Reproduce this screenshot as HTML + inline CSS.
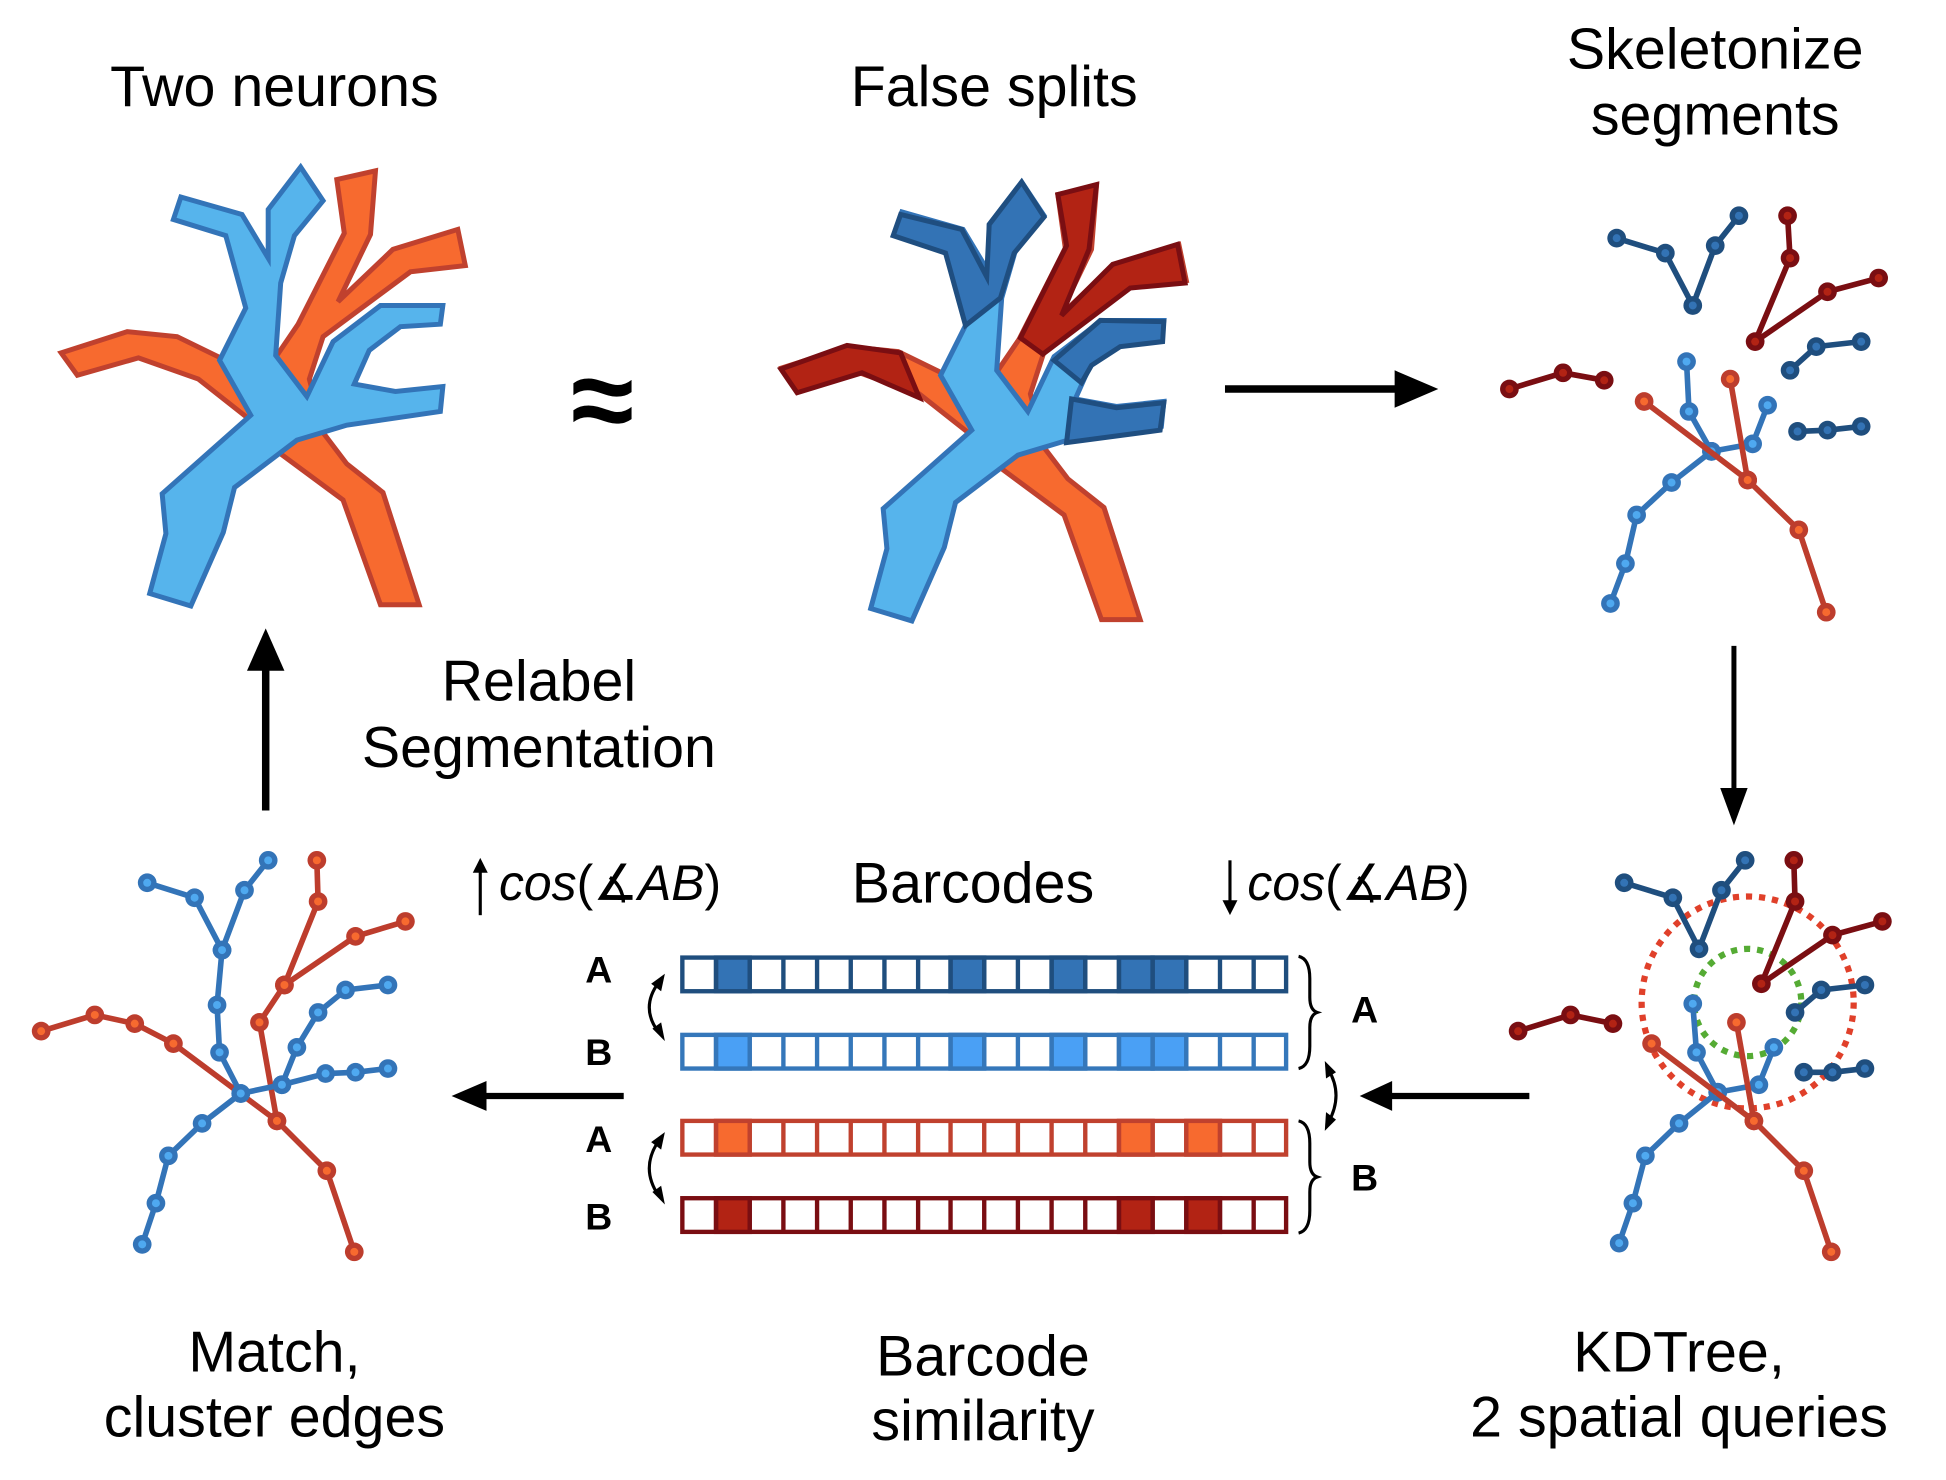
<!DOCTYPE html>
<html><head><meta charset="utf-8"><style>
html,body{margin:0;padding:0;background:#fff}
svg{display:block}
text{font-family:"Liberation Sans",Arial,sans-serif;fill:#000}
</style></head><body>
<svg width="1946" height="1480" viewBox="0 0 1560 1187" preserveAspectRatio="none" xmlns="http://www.w3.org/2000/svg">
<defs>
<marker id="mlb" markerUnits="userSpaceOnUse" markerWidth="20" markerHeight="20" refX="10" refY="10" viewBox="0 0 20 20"><circle cx="10" cy="10" r="7.5" fill="#3374b8"/><circle cx="10" cy="10" r="3.2" fill="#4fa9f0"/></marker>
<marker id="mor" markerUnits="userSpaceOnUse" markerWidth="20" markerHeight="20" refX="10" refY="10" viewBox="0 0 20 20"><circle cx="10" cy="10" r="7.5" fill="#bd3d2d"/><circle cx="10" cy="10" r="3.2" fill="#f76a2f"/></marker>
<marker id="mdb" markerUnits="userSpaceOnUse" markerWidth="20" markerHeight="20" refX="10" refY="10" viewBox="0 0 20 20"><circle cx="10" cy="10" r="7.5" fill="#1f4e7e"/><circle cx="10" cy="10" r="3.2" fill="#3373b5"/></marker>
<marker id="mdr" markerUnits="userSpaceOnUse" markerWidth="20" markerHeight="20" refX="10" refY="10" viewBox="0 0 20 20"><circle cx="10" cy="10" r="7.5" fill="#7a0e12"/><circle cx="10" cy="10" r="3.2" fill="#b22314"/></marker>
<g id="orN"><polygon points="49,283 102,266 142,270 185,291 222,285 239,260 276,187 270,144 301,137 297,188 271,242 315,200 367,184 373,213 329,218 259,270 248,304 259,347 278,372 307,395 336,485 305,485 275,401 225,364 197,334 159,304 111,287 62,301" fill="#f76a2f" stroke="#c0412e" stroke-width="4" stroke-linejoin="miter"/></g>
<g id="blN"><polygon points="120,476 133,428 130,396 201,333 176,289 197,247 181,189 139,176 145,158 194,172 215,207 215,168 241,134 259,161 236,189 225,227 221,285 246,318 267,274 305,245 355,245 353,260 321,262 296,281 284,308 317,314 355,310 353,330 278,341 238,353 188,391 179,427 153,486" fill="#56b4ec" stroke="#3374b8" stroke-width="4"/></g>
</defs>

<!-- Titles -->
<text x="220" y="85" font-size="46" text-anchor="middle">Two neurons</text>
<text x="797" y="85" font-size="46" text-anchor="middle">False splits</text>
<text x="1375" y="55" font-size="46" text-anchor="middle">Skeletonize</text>
<text x="1375" y="108" font-size="46" text-anchor="middle">segments</text>

<!-- Neuron 1 -->
<use href="#orN"/><use href="#blN"/>
<text x="483" y="352" font-size="92" font-weight="bold" text-anchor="middle">≈</text>

<!-- Neuron 2 -->
<g transform="translate(578,12)"><use href="#orN"/><use href="#blN"/></g>
<g stroke-width="4" stroke-linejoin="miter">
<polygon points="716,189 722,172 771,184 791,222 793,180 819,146 837,174 813,203 802,239 774,261 758,203" fill="#3373b5" stroke="#1f4e80"/>
<polygon points="848,156 879,148 873,200 851,253 892,212 944,196 950,227 906,231 836,284 818,271 855,197" fill="#b22314" stroke="#7a0e12"/>
<polygon points="626,296 679,277 722,283 737,319 691,299 639,315" fill="#b22314" stroke="#7a0e12"/>
<polygon points="845,289 882,257 933,258 932,274 898,278 875,293 867,307" fill="#3373b5" stroke="#1f4e80"/>
<polygon points="859,320 895,327 933,323 930,345 855,355" fill="#3373b5" stroke="#1f4e80"/>
</g>

<!-- Top arrow right -->
<line x1="982" y1="312" x2="1122" y2="312" stroke="#000" stroke-width="6"/>
<polygon points="1118,297 1153,312 1118,327" fill="#000"/>

<!-- Skeleton top right -->
<g fill="none" stroke-width="4.5" stroke-linejoin="round">
<polyline points="1296,191 1335,203 1357,245 1375,197 1394,173" stroke="#1f4e7e" marker-start="url(#mdb)" marker-mid="url(#mdb)" marker-end="url(#mdb)"/>
<polyline points="1433,173 1435,207 1407,274 1465,234 1506,223" stroke="#7a0e12" marker-start="url(#mdr)" marker-mid="url(#mdr)" marker-end="url(#mdr)"/>
<polyline points="1435,297 1456,278 1492,274" stroke="#1f4e7e" marker-start="url(#mdb)" marker-mid="url(#mdb)" marker-end="url(#mdb)"/>
<polyline points="1441,346 1465,345 1492,342" stroke="#1f4e7e" marker-start="url(#mdb)" marker-mid="url(#mdb)" marker-end="url(#mdb)"/>
<polyline points="1210,312 1253,299 1286,305" stroke="#7a0e12" marker-start="url(#mdr)" marker-mid="url(#mdr)" marker-end="url(#mdr)"/>
<polyline points="1352,290 1354,330 1372,362 1405,356 1417,325" stroke="#3374b8" marker-start="url(#mlb)" marker-mid="url(#mlb)" marker-end="url(#mlb)"/>
<polyline points="1372,362 1340,387 1312,413 1303,452 1291,484" stroke="#3374b8" marker-start="url(#mlb)" marker-mid="url(#mlb)" marker-end="url(#mlb)"/>
<polyline points="1318,322 1401,385 1442,425 1464,491" stroke="#bd3d2d" marker-start="url(#mor)" marker-mid="url(#mor)" marker-end="url(#mor)"/>
<polyline points="1387,304 1401,385" stroke="#bd3d2d" marker-start="url(#mor)" marker-end="url(#mor)"/>
</g>

<!-- Down arrow -->
<line x1="1390" y1="518" x2="1390" y2="636" stroke="#000" stroke-width="4"/>
<polygon points="1379,632 1390,662 1401,632" fill="#000"/>

<!-- Up arrow -->
<line x1="213" y1="650" x2="213" y2="535" stroke="#000" stroke-width="6"/>
<polygon points="198,538 213,504 228,538" fill="#000"/>
<text x="432" y="562" font-size="46" text-anchor="middle">Relabel</text>
<text x="432" y="615" font-size="46" text-anchor="middle">Segmentation</text>

<!-- Skeleton bottom right (KDTree) -->
<circle cx="1401" cy="804" r="85" fill="none" stroke="#e0402a" stroke-width="5" stroke-dasharray="5,5.5"/>
<circle cx="1401" cy="804" r="43" fill="none" stroke="#55ab34" stroke-width="5" stroke-dasharray="5,5.5"/>
<g fill="none" stroke-width="4.5" stroke-linejoin="round">
<polyline points="1302,708 1341,720 1362,761 1380,714 1399,690" stroke="#1f4e7e" marker-start="url(#mdb)" marker-mid="url(#mdb)" marker-end="url(#mdb)"/>
<polyline points="1438,690 1439,723 1412,789 1469,750 1509,739" stroke="#7a0e12" marker-start="url(#mdr)" marker-mid="url(#mdr)" marker-end="url(#mdr)"/>
<polyline points="1439,812 1460,794 1495,790" stroke="#1f4e7e" marker-start="url(#mdb)" marker-mid="url(#mdb)" marker-end="url(#mdb)"/>
<polyline points="1446,860 1469,860 1495,857" stroke="#1f4e7e" marker-start="url(#mdb)" marker-mid="url(#mdb)" marker-end="url(#mdb)"/>
<polyline points="1217,827 1259,814 1293,821" stroke="#7a0e12" marker-start="url(#mdr)" marker-mid="url(#mdr)" marker-end="url(#mdr)"/>
<polyline points="1357,805 1360,844 1377,876 1410,870 1422,840" stroke="#3374b8" marker-start="url(#mlb)" marker-mid="url(#mlb)" marker-end="url(#mlb)"/>
<polyline points="1377,876 1346,901 1319,927 1309,965 1298,997" stroke="#3374b8" marker-start="url(#mlb)" marker-mid="url(#mlb)" marker-end="url(#mlb)"/>
<polyline points="1324,837 1406,899 1446,939 1468,1004" stroke="#bd3d2d" marker-start="url(#mor)" marker-mid="url(#mor)" marker-end="url(#mor)"/>
<polyline points="1392,820 1406,899" stroke="#bd3d2d" marker-start="url(#mor)" marker-end="url(#mor)"/>
</g>

<!-- Skeleton bottom left (Match) -->
<g fill="none" stroke-width="4.5" stroke-linejoin="round">
<polyline points="254,690 255,723 228,790 208,820 222,899" stroke="#bd3d2d" marker-start="url(#mor)" marker-mid="url(#mor)" marker-end="url(#mor)"/>
<polyline points="228,790 285,751 325,739" stroke="#bd3d2d" marker-start="url(#mor)" marker-mid="url(#mor)" marker-end="url(#mor)"/>
<polyline points="33,827 76,814 108,821 139,837 222,899 262,939 284,1004" stroke="#bd3d2d" marker-start="url(#mor)" marker-mid="url(#mor)" marker-end="url(#mor)"/>
<polyline points="118,708 156,720 178,762 196,714 215,690" stroke="#3374b8" marker-start="url(#mlb)" marker-mid="url(#mlb)" marker-end="url(#mlb)"/>
<polyline points="178,762 174,806 176,844 193,877 226,870 238,840 255,812 277,794 311,790" stroke="#3374b8" marker-start="url(#mlb)" marker-mid="url(#mlb)" marker-end="url(#mlb)"/>
<polyline points="226,870 261,861 285,860 311,857" stroke="#3374b8" marker-start="url(#mlb)" marker-mid="url(#mlb)" marker-end="url(#mlb)"/>
<polyline points="193,877 162,901 135,927 125,965 114,998" stroke="#3374b8" marker-start="url(#mlb)" marker-mid="url(#mlb)" marker-end="url(#mlb)"/>
</g>

<!-- Left arrows -->
<line x1="1226" y1="879" x2="1112" y2="879" stroke="#000" stroke-width="5"/>
<polygon points="1116,867 1090,879 1116,891" fill="#000"/>
<line x1="500" y1="879" x2="386" y2="879" stroke="#000" stroke-width="5"/>
<polygon points="390,867 362,879 390,891" fill="#000"/>

<!-- Barcode header -->
<line x1="385" y1="696" x2="385" y2="734" stroke="#000" stroke-width="2.5"/>
<polygon points="379,700 385,688 391,700" fill="#000"/>
<text x="400" y="722" font-size="40"><tspan font-style="italic">cos</tspan>(∡<tspan font-style="italic">AB</tspan>)</text>
<text x="780" y="724" font-size="46" text-anchor="middle">Barcodes</text>
<line x1="986" y1="690" x2="986" y2="726" stroke="#000" stroke-width="2.5"/>
<polygon points="980,722 986,734 992,722" fill="#000"/>
<text x="1000" y="722" font-size="40"><tspan font-style="italic">cos</tspan>(∡<tspan font-style="italic">AB</tspan>)</text>

<!-- Barcodes -->
<g stroke-width="3.5">
<g stroke="#1f4e7e" fill="#fff">
<rect x="547" y="768" width="484" height="27"/>
<rect x="574" y="768" width="27" height="27" fill="#3373b5"/>
<rect x="762" y="768" width="27" height="27" fill="#3373b5"/>
<rect x="843" y="768" width="27" height="27" fill="#3373b5"/>
<rect x="897" y="768" width="27" height="27" fill="#3373b5"/>
<rect x="924" y="768" width="27" height="27" fill="#3373b5"/>
<path d="M574,768v27M601,768v27M628,768v27M655,768v27M682,768v27M709,768v27M736,768v27M762,768v27M789,768v27M816,768v27M843,768v27M870,768v27M897,768v27M924,768v27M951,768v27M978,768v27M1005,768v27"/>
</g>
<g stroke="#3577ba" fill="#fff">
<rect x="547" y="830" width="484" height="27"/>
<rect x="574" y="830" width="27" height="27" fill="#4aa0f5"/>
<rect x="762" y="830" width="27" height="27" fill="#4aa0f5"/>
<rect x="843" y="830" width="27" height="27" fill="#4aa0f5"/>
<rect x="897" y="830" width="27" height="27" fill="#4aa0f5"/>
<rect x="924" y="830" width="27" height="27" fill="#4aa0f5"/>
<path d="M574,830v27M601,830v27M628,830v27M655,830v27M682,830v27M709,830v27M736,830v27M762,830v27M789,830v27M816,830v27M843,830v27M870,830v27M897,830v27M924,830v27M951,830v27M978,830v27M1005,830v27"/>
</g>
<g stroke="#c0412e" fill="#fff">
<rect x="547" y="899" width="484" height="27"/>
<rect x="574" y="899" width="27" height="27" fill="#f76a2f"/>
<rect x="897" y="899" width="27" height="27" fill="#f76a2f"/>
<rect x="951" y="899" width="27" height="27" fill="#f76a2f"/>
<path d="M574,899v27M601,899v27M628,899v27M655,899v27M682,899v27M709,899v27M736,899v27M762,899v27M789,899v27M816,899v27M843,899v27M870,899v27M897,899v27M924,899v27M951,899v27M978,899v27M1005,899v27"/>
</g>
<g stroke="#7a0e12" fill="#fff">
<rect x="547" y="961" width="484" height="27"/>
<rect x="574" y="961" width="27" height="27" fill="#b22314"/>
<rect x="897" y="961" width="27" height="27" fill="#b22314"/>
<rect x="951" y="961" width="27" height="27" fill="#b22314"/>
<path d="M574,961v27M601,961v27M628,961v27M655,961v27M682,961v27M709,961v27M736,961v27M762,961v27M789,961v27M816,961v27M843,961v27M870,961v27M897,961v27M924,961v27M951,961v27M978,961v27M1005,961v27"/>
</g>
</g>

<!-- A/B labels -->
<g font-size="30" font-weight="bold" text-anchor="middle">
<text x="480" y="788">A</text>
<text x="480" y="854">B</text>
<text x="480" y="924">A</text>
<text x="480" y="986">B</text>
<text x="1094" y="820">A</text>
<text x="1094" y="955">B</text>
</g>

<!-- braces -->
<g fill="none" stroke="#000" stroke-width="2.5">
<path d="M1041,767 q9,2 9,18 v15 q0,10 6,12 q-6,2 -6,12 v15 q0,16 -9,18"/>
<path d="M1041,899 q9,2 9,18 v15 q0,10 6,12 q-6,2 -6,12 v15 q0,16 -9,18"/>
<path d="M528,788 q-15,20 0,40"/>
<path d="M528,915 q-15,22 0,44"/>
<path d="M1065,858 q12,20 0,42"/>
</g>
<g fill="#000">
<polygon points="533,781 522,789 530,795"/>
<polygon points="533,835 523,825 530,820"/>
<polygon points="533,908 522,916 530,922"/>
<polygon points="533,966 523,956 530,951"/>
<polygon points="1062,851 1071,860 1063,865"/>
<polygon points="1062,907 1071,898 1063,892"/>
</g>

<!-- Bottom captions -->
<text x="220" y="1100" font-size="46" text-anchor="middle">Match,</text>
<text x="220" y="1152" font-size="46" text-anchor="middle">cluster edges</text>
<text x="788" y="1103" font-size="46" text-anchor="middle">Barcode</text>
<text x="788" y="1155" font-size="46" text-anchor="middle">similarity</text>
<text x="1346" y="1100" font-size="46" text-anchor="middle">KDTree,</text>
<text x="1346" y="1152" font-size="46" text-anchor="middle">2 spatial queries</text>
</svg>
</body></html>
